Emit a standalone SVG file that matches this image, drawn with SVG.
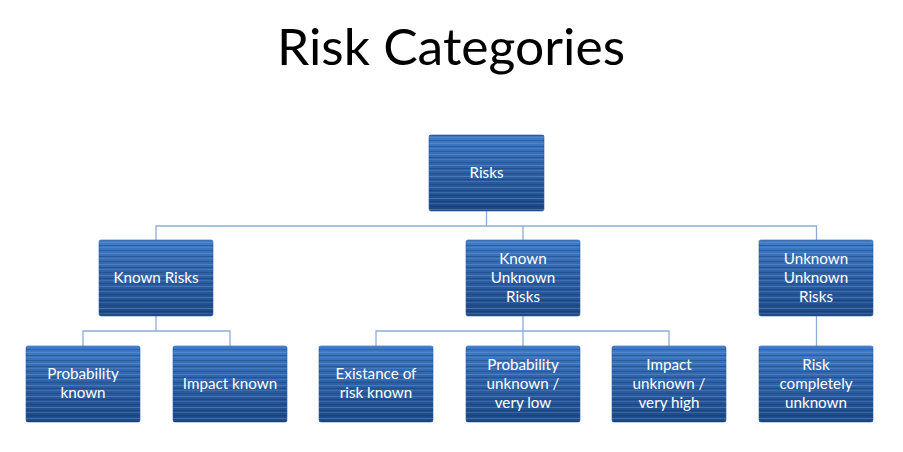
<svg xmlns="http://www.w3.org/2000/svg" width="903" height="452" viewBox="0 0 903 452">
<defs>
<linearGradient id="g" x1="0" y1="0" x2="0" y2="1">
<stop offset="0" stop-color="#3f7cc8"/>
<stop offset="0.45" stop-color="#2e62a8"/>
<stop offset="1" stop-color="#1c4883"/>
</linearGradient>
<pattern id="st" patternUnits="userSpaceOnUse" width="10" height="11">
<rect x="0" y="0" width="10" height="1" fill="#6f9ad6" opacity="0.45"/>
<rect x="0" y="3" width="10" height="1" fill="#0f2f5c" opacity="0.35"/>
<rect x="0" y="5" width="10" height="1" fill="#6f9ad6" opacity="0.3"/>
<rect x="0" y="8" width="10" height="1" fill="#0f2f5c" opacity="0.3"/>
</pattern>
</defs>
<style>
.box{fill:url(#g);stroke:#2a5a9a;stroke-width:0.6}
.str{fill:url(#st)}
.t{font-family:Lato,"Open Sans","Liberation Sans",sans-serif;font-size:15.2px;fill:#ffffff;text-anchor:middle}
.ln{fill:none;stroke:#8eacd8;stroke-width:1.3}
</style>
<rect width="903" height="452" fill="#ffffff"/>
<text x="451" y="65" font-family="Lato,'Open Sans','Liberation Sans',sans-serif" font-size="50" fill="#000000" text-anchor="middle" textLength="348" lengthAdjust="spacingAndGlyphs">Risk Categories</text>
<g id="connectors">
<path class="ln" d="M486.5 211V226M156 240V226H816.5V240M523 226V240"/>
<path class="ln" d="M156 316V331M83 346V331H230V346"/>
<path class="ln" d="M523 316V346M376 346V331H669V346"/>
<path class="ln" d="M816.5 316V346"/>
</g>
<g id="n-risks"><rect class="box" x="429" y="135" width="115" height="76" rx="2"/><rect class="str" x="429" y="135" width="115" height="76"/><text class="t" x="486.5" y="178">Risks</text></g>
<g id="n-known"><rect class="box" x="99" y="240" width="114" height="76" rx="2"/><rect class="str" x="99" y="240" width="114" height="76"/><text class="t" x="156" y="283">Known Risks</text></g>
<g id="n-ku"><rect class="box" x="466" y="240" width="114" height="76" rx="2"/><rect class="str" x="466" y="240" width="114" height="76"/><text class="t" x="523" y="264">Known</text><text class="t" x="523" y="283">Unknown</text><text class="t" x="523" y="302">Risks</text></g>
<g id="n-uu"><rect class="box" x="759" y="240" width="114" height="76" rx="2"/><rect class="str" x="759" y="240" width="114" height="76"/><text class="t" x="816" y="264">Unknown</text><text class="t" x="816" y="283">Unknown</text><text class="t" x="816" y="302">Risks</text></g>
<g id="n-pk"><rect class="box" x="26" y="346" width="114" height="76" rx="2"/><rect class="str" x="26" y="346" width="114" height="76"/><text class="t" x="83" y="379">Probability</text><text class="t" x="83" y="398">known</text></g>
<g id="n-ik"><rect class="box" x="173" y="346" width="114" height="76" rx="2"/><rect class="str" x="173" y="346" width="114" height="76"/><text class="t" x="230" y="389">Impact known</text></g>
<g id="n-ex"><rect class="box" x="319" y="346" width="114" height="76" rx="2"/><rect class="str" x="319" y="346" width="114" height="76"/><text class="t" x="376" y="379">Existance of</text><text class="t" x="376" y="398">risk known</text></g>
<g id="n-pu"><rect class="box" x="466" y="346" width="114" height="76" rx="2"/><rect class="str" x="466" y="346" width="114" height="76"/><text class="t" x="523" y="370">Probability</text><text class="t" x="523" y="389">unknown /</text><text class="t" x="523" y="408">very low</text></g>
<g id="n-iu"><rect class="box" x="612" y="346" width="114" height="76" rx="2"/><rect class="str" x="612" y="346" width="114" height="76"/><text class="t" x="669" y="370">Impact</text><text class="t" x="669" y="389">unknown /</text><text class="t" x="669" y="408">very high</text></g>
<g id="n-rc"><rect class="box" x="759" y="346" width="114" height="76" rx="2"/><rect class="str" x="759" y="346" width="114" height="76"/><text class="t" x="816" y="370">Risk</text><text class="t" x="816" y="389">completely</text><text class="t" x="816" y="408">unknown</text></g>
</svg>
